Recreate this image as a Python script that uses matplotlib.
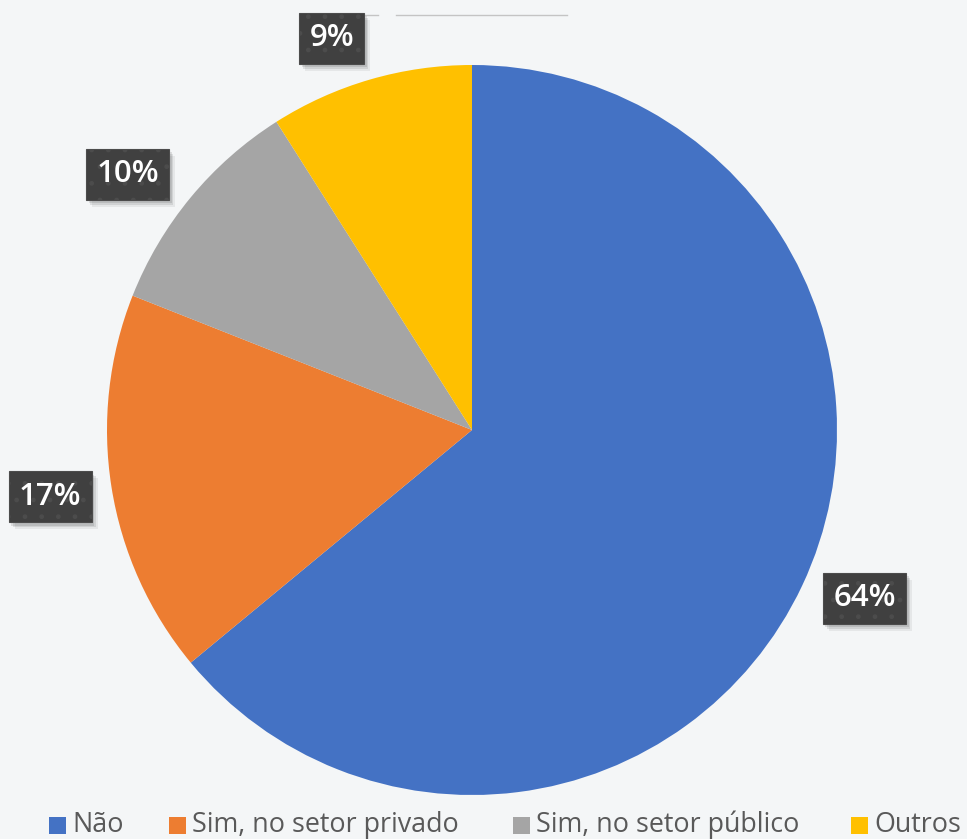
import matplotlib
matplotlib.use("Agg")
import matplotlib.pyplot as plt
from matplotlib.patches import Rectangle
import numpy as np

# Survey answers and their shares (%)
categories = ["Não", "Sim, no setor privado", "Sim, no setor público", "Outros"]
shares = [64, 17, 10, 9]
colors = ["#4472C4", "#ED7D31", "#A5A5A5", "#FFC000"]

W, H = 967, 839
bg = "#F4F6F7"
fig = plt.figure(figsize=(W / 100, H / 100), dpi=100, facecolor=bg)
ax = fig.add_axes([0, 0, 1, 1])
ax.set_facecolor(bg)

cx, cy, R = 472, H - 430, 365
wedges, _ = ax.pie(shares, colors=colors, startangle=90, counterclock=False,
                   center=(cx, cy), radius=R, frame=True,
                   wedgeprops=dict(linewidth=0))
ax.set_xlim(0, W)
ax.set_ylim(0, H)
ax.set_aspect("equal")
ax.axis("off")

# thin rule left over from the title area
ax.plot([300, 378], [H - 14.5, H - 14.5], color="#C4C4C4", lw=1, zorder=1)
ax.plot([396, 567], [H - 14.5, H - 14.5], color="#C4C4C4", lw=1, zorder=1)

# data labels outside each wedge
label_r = [1.17, 1.17, 1.175, 1.14]
label_shift = [2.0, 0.0, 3.0, 3.5]   # degrees, nudges label along the rim
lab_font = dict(family=["Open Sans", "DejaVu Sans"], fontweight="semibold", fontsize=22.5)
labels = []
start = 90.0
for val, lr, sh in zip(shares, label_r, label_shift):
    span = 360.0 * val / sum(shares)
    mid = np.deg2rad(start - span / 2 + sh)
    start -= span
    x = cx + lr * R * np.cos(mid)
    y = cy + lr * R * np.sin(mid)
    t = ax.text(x, y, f"{val}%", ha="center", va="center", color="white",
                bbox=dict(boxstyle="square,pad=0.33", facecolor="#404040",
                          edgecolor="#4C4C4C", linewidth=0.8, hatch="."),
                zorder=5, **lab_font)
    labels.append(t)

# soft drop shadow behind each label box
fig.canvas.draw()
inv = ax.transData.inverted()
for t in labels:
    ext = t.get_bbox_patch().get_window_extent()
    (x0, y0), (x1, y1) = inv.transform([[ext.x0, ext.y0], [ext.x1, ext.y1]])
    for k, a in ((6, 0.06), (4, 0.09), (2.5, 0.10)):
        ax.add_patch(Rectangle((x0 + k, y0 - k - 1), x1 - x0, y1 - y0,
                               facecolor="black", alpha=a, edgecolor="none", zorder=4))

# legend along the bottom: colour key followed by its label
key_x = [49, 169, 513, 851]
key_y = H - 825
key_size = 17
for x0, c, name in zip(key_x, colors, categories):
    ax.add_patch(Rectangle((x0, key_y - key_size / 2), key_size, key_size,
                           facecolor=c, edgecolor="none", zorder=3))
    ax.text(x0 + key_size + 6, H - 832, name, ha="left", va="baseline",
            fontsize=19.4, color="#595959", family=["Open Sans", "DejaVu Sans"])

fig.savefig("out.png", dpi=100, facecolor=bg)
